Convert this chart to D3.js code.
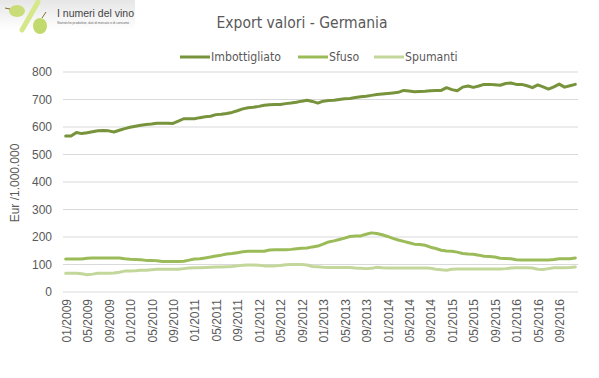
<!DOCTYPE html>
<html>
<head>
<meta charset="utf-8">
<script src="https://cdn.jsdelivr.net/npm/d3@7"></script>
<style>
  body { margin: 0; background: #fff; }
  svg { display: block; }
  text { font-family: "Liberation Sans", Arial, sans-serif; }
  .narrow { font-family: "Liberation Sans Narrow", "DejaVu Sans Condensed", "Liberation Sans", sans-serif; }
</style>
</head>
<body>
<svg id="chart"></svg>
<script>
const seriesNames = ["Imbottigliato", "Sfuso", "Spumanti"];

// monthly values 01/2009 - 12/2016, Eur / 1.000.000
const imbottigliato = [
  567, 567, 580, 576, 579, 583, 586, 587, 586, 582, 588, 594,
  599, 603, 606, 609, 611, 614, 614, 614, 613, 621, 630, 630,
  630, 634, 637, 639, 645, 646, 649, 653, 659, 666, 670, 672,
  675, 679, 681, 682, 682, 685, 687, 690, 694, 697, 693, 687,
  694, 696, 697, 700, 703, 704, 707, 710, 712, 715, 718, 720,
  722, 724, 726, 733, 731, 728, 729, 730, 732, 733, 733, 743,
  736, 732, 745, 749, 744, 749, 755, 755, 754, 752, 758, 760,
  755, 755, 750, 743, 753, 746, 738, 746, 756, 745, 750, 755
];
const sfuso = [
  120, 120, 120, 120, 123, 124, 124, 124, 124, 124, 124, 121,
  119, 118, 117, 115, 115, 114, 111, 111, 111, 111, 112, 116,
  120, 121, 124, 127, 131, 134, 138, 140, 143, 146, 148, 148,
  148, 148, 153, 154, 154, 154, 155, 157, 159, 160, 164, 167,
  174, 182, 186, 191, 196, 202, 204, 204, 210, 215, 213, 208,
  202, 195, 189, 184, 179, 174, 173, 170, 163, 158, 152, 149,
  148, 145, 140, 138, 137, 134, 130, 129, 127, 123, 122, 121,
  117, 116, 116, 116, 116, 116, 116, 118, 121, 121, 121, 124
];
const spumanti = [
  68, 68, 68, 66, 63, 65, 68, 68, 68, 69, 72, 76,
  76, 77, 79, 79, 81, 83, 83, 83, 83, 83, 85, 87,
  88, 88, 89, 90, 91, 91, 92, 93, 95, 97, 98, 98,
  97, 95, 95, 95, 96, 99, 100, 100, 100, 98, 93, 92,
  90, 89, 89, 89, 89, 89, 87, 86, 85, 86, 90, 88,
  87, 87, 87, 87, 87, 87, 87, 87, 86, 83, 81, 79,
  83, 84, 84, 84, 84, 84, 84, 84, 84, 84, 85, 87,
  88, 88, 88, 87, 83, 82, 85, 88, 88, 88, 89, 91
];
const yTicks = [0, 100, 200, 300, 400, 500, 600, 700, 800];
const colors = ["#77933c", "#9bbb59", "#c4d79b"];

const months = [];
for (let y = 2009; y <= 2016; y++) {
  for (let m = 1; m <= 12; m++) months.push(String(m).padStart(2, "0") + "/" + y);
}
const tickLabels = months.filter((d, i) => i % 4 === 0);

const width = 599, height = 378;
const svg = d3.select("#chart").attr("width", width).attr("height", height);

// logo
const logo = svg.append("g");
const grad = svg.append("defs").append("linearGradient")
  .attr("id", "lg").attr("x1", 0).attr("y1", 0).attr("x2", 0).attr("y2", 1);
grad.append("stop").attr("offset", "0%").attr("stop-color", "#e6e6e6");
grad.append("stop").attr("offset", "100%").attr("stop-color", "#ffffff");
logo.append("rect").attr("x", 0).attr("y", 0).attr("width", 135).attr("height", 30).attr("fill", "url(#lg)");
logo.append("line").attr("x1", 38).attr("y1", 2).attr("x2", 22).attr("y2", 30)
  .attr("stroke", "#d4e88a").attr("stroke-width", 5).attr("stroke-linecap", "round");
logo.append("ellipse").attr("cx", 17).attr("cy", 11).attr("rx", 8).attr("ry", 6).attr("fill", "#c8dc78");
logo.append("ellipse").attr("cx", 40).attr("cy", 26).attr("rx", 7).attr("ry", 8).attr("fill", "#c2d96e");
logo.append("line").attr("x1", 5).attr("y1", 8).attr("x2", 10).attr("y2", 9).attr("stroke", "#8a6a3a").attr("stroke-width", 1);
logo.append("line").attr("x1", 42).attr("y1", 18).attr("x2", 46).attr("y2", 12).attr("stroke", "#8a6a3a").attr("stroke-width", 1);
logo.append("text").attr("x", 57).attr("y", 17).attr("font-size", 10.5).attr("fill", "#444")
  .text("I numeri del vino");
logo.append("text").attr("x", 57).attr("y", 24).attr("font-size", 3.2).attr("fill", "#666")
  .text("Statistiche produttive, dati di mercato e di consumo");

const x = d3.scaleBand().domain(months).range([63, 578]);
const y = d3.scaleLinear().domain([0, 800]).range([292, 72]);
const cx = d => x(d) + x.bandwidth() / 2;

// grid
svg.append("g").selectAll("line").data(yTicks).join("line")
  .attr("x1", 63).attr("x2", 578)
  .attr("y1", d => y(d)).attr("y2", d => y(d))
  .attr("stroke", "#d9d9d9").attr("stroke-width", 1);

// y axis labels
svg.append("g").selectAll("text").data(yTicks).join("text")
  .attr("x", 52).attr("y", d => y(d)).attr("dy", "0.35em")
  .attr("text-anchor", "end").attr("font-size", 12).attr("fill", "#595959")
  .text(d => d);

// x axis labels
svg.append("g").selectAll("text").data(tickLabels).join("text")
  .attr("transform", d => `translate(${cx(d) + 5},${299}) rotate(-90)`)
  .attr("text-anchor", "end").attr("font-size", 12).attr("fill", "#595959")
  .text(d => d);

// y title
svg.append("text")
  .attr("transform", `translate(19,183) rotate(-90)`)
  .attr("text-anchor", "middle").attr("font-size", 12).attr("fill", "#595959")
  .text("Eur /1.000.000");

// title
svg.append("text").attr("class", "narrow")
  .attr("x", 302).attr("y", 28).attr("text-anchor", "middle")
  .attr("font-size", 15.5).attr("fill", "#595959")
  .text("Export valori - Germania");

// lines
const data = [imbottigliato, sfuso, spumanti];
const line = d3.line().x((d, i) => cx(months[i])).y(d => y(d));
svg.append("g").selectAll("path").data(data).join("path")
  .attr("d", line).attr("fill", "none")
  .attr("stroke", (d, i) => colors[i]).attr("stroke-width", 3)
  .attr("stroke-linejoin", "round").attr("stroke-linecap", "round");

// legend
const legendX = [180, 298, 374];
const legend = svg.append("g").selectAll("g").data(seriesNames).join("g")
  .attr("transform", (d, i) => `translate(${legendX[i]},57)`);
legend.append("line").attr("x1", 0).attr("x2", 30).attr("y1", 0).attr("y2", 0)
  .attr("stroke", (d, i) => colors[i]).attr("stroke-width", 3);
legend.append("text").attr("class", "narrow")
  .attr("x", 31).attr("dy", "0.35em").attr("font-size", 12.2).attr("fill", "#595959")
  .text(d => d);
</script>
</body>
</html>
